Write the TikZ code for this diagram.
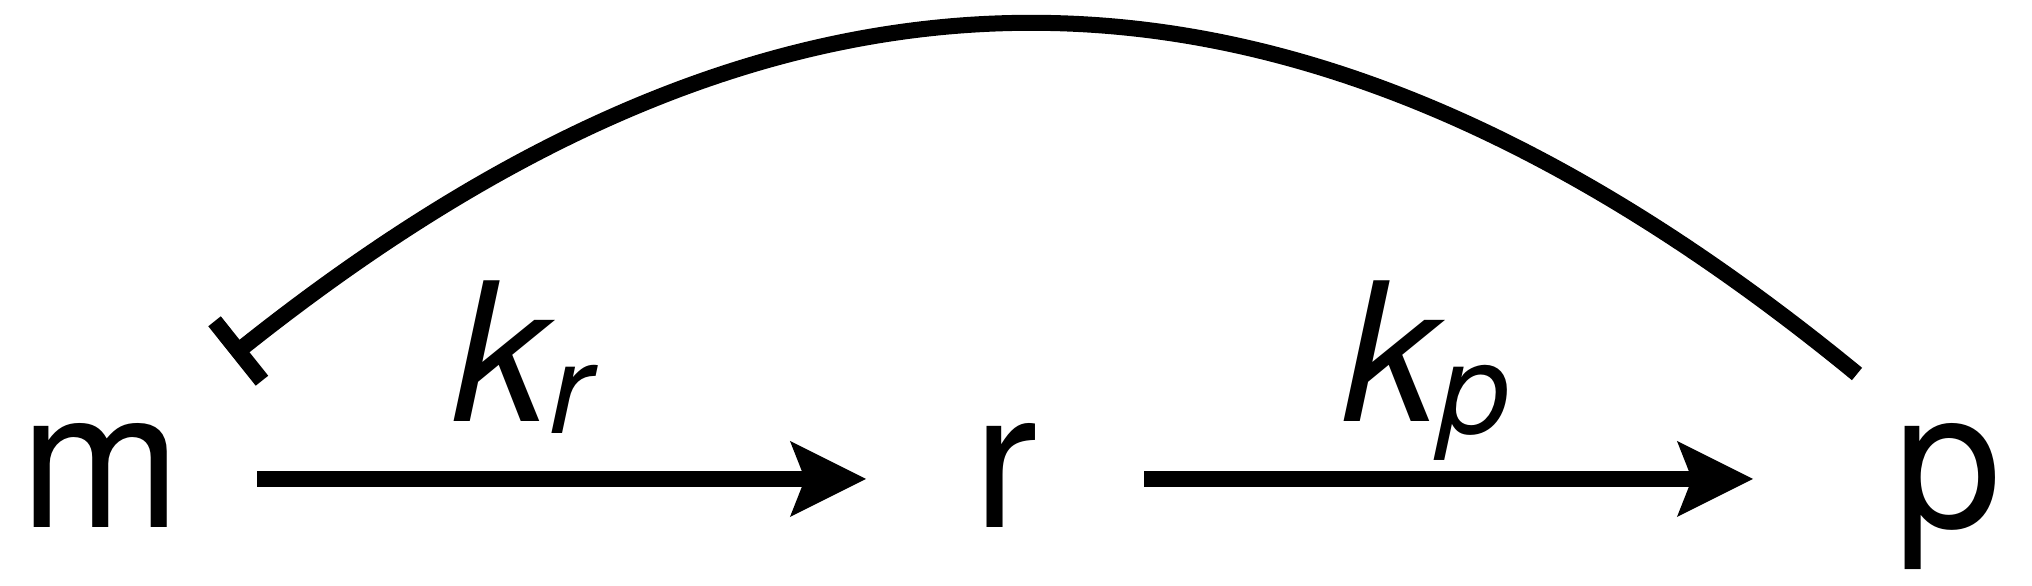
\documentclass[tikz,border=0pt]{standalone}
\usepackage{fontspec}
\setmainfont{TeX Gyre Heros}
\usetikzlibrary{arrows.meta}
\begin{document}
\begin{tikzpicture}[x=0.01cm,y=-0.01cm,
  lbl/.style={inner sep=0pt, anchor=base west, font=\fontsize{54.9}{60}\selectfont},
  rate/.style={inner sep=0pt, anchor=base west, font=\fontsize{54.9}{60}\selectfont\itshape},
  act/.style={line width=0.16cm, -{Stealth[length=0.76cm,width=0.76cm,inset=0.15cm,line width=0pt]}},
  inh/.style={line width=0.16cm, {Bar[width=0.76cm]}-}]
\useasboundingbox (0,0) rectangle (2032,586);
\node[lbl] (m) at (20,528) {m};
\node[lbl] (r) at (973,528) {r};
\node[lbl] (p) at (1894,528) {p};
\node[rate] (kr) at (452,422) {k\raisebox{-0.12cm}{\fontsize{36}{40}\selectfont r}};
\node[rate] (kp) at (1342,422) {k\raisebox{-0.12cm}{\fontsize{36}{40}\selectfont p}};
\coordinate (a1s) at (257,479);
\coordinate (a1e) at (866,479);
\coordinate (a2s) at (1144,479);
\coordinate (a2e) at (1753,479);
\coordinate (inhS) at (232,356);
\coordinate (inhE) at (1857,374);
\draw[act] (a1s) -- (a1e);
\draw[act] (a2s) -- (a2e);
\draw[inh] (inhS) .. controls (771,-74) and (1272,-106) .. (inhE);
\end{tikzpicture}
\end{document}
